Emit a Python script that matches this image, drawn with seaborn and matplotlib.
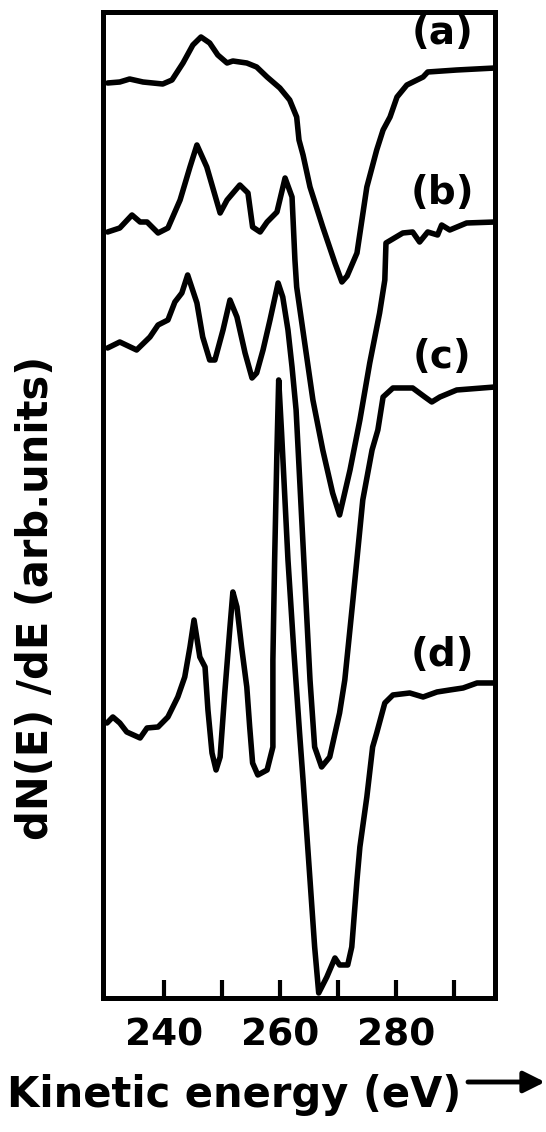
import matplotlib
matplotlib.use("Agg")
import matplotlib.pyplot as plt
import pandas as pd
import seaborn as sns

# Auger derivative spectra, four samples (a)-(d), offset vertically
energy_a = [230.3, 232.4, 234.1, 236.4, 239.8, 241.4, 243.3, 245.0, 246.4, 247.9,
            249.3, 250.9, 251.9, 254.3, 256.0, 257.8, 260.0, 261.7, 262.9, 263.3,
            264.0, 265.2, 267.4, 269.5, 270.7, 271.6, 273.3, 275.0, 276.7, 277.8,
            279.0, 280.2, 281.9, 284.7, 285.5, 290.5, 297.1]
signal_a = [91.5, 91.6, 91.9, 91.6, 91.4, 91.8, 93.5, 95.3, 96.1, 95.5,
            94.3, 93.5, 93.7, 93.5, 93.1, 92.1, 91.0, 89.8, 88.1, 85.8,
            84.3, 81.1, 77.1, 73.5, 71.6, 72.2, 74.5, 81.1, 84.8, 86.8,
            88.1, 90.1, 91.3, 92.1, 92.6, 92.8, 93.0]

energy_b = [230.3, 232.4, 234.5, 235.9, 237.1, 239.0, 240.7, 242.8, 244.5, 245.7,
            247.4, 248.4, 249.7, 250.9, 253.1, 254.5, 255.3, 256.6, 257.8, 259.5,
            260.9, 262.1, 262.6, 262.9, 265.7, 267.4, 269.1, 270.3, 272.1, 273.8,
            275.5, 277.2, 278.1, 278.3, 281.2, 282.9, 284.1, 285.5, 287.2, 287.9,
            289.3, 292.2, 297.1]
signal_b = [76.6, 77.0, 78.3, 77.6, 77.6, 76.5, 77.0, 79.8, 83.1, 85.3,
            83.1, 81.1, 78.5, 79.8, 81.3, 80.5, 77.1, 76.6, 77.6, 78.6,
            82.0, 80.1, 73.8, 71.1, 59.8, 54.8, 50.5, 48.3, 52.8, 57.8,
            63.5, 68.5, 71.8, 75.5, 76.5, 76.6, 75.6, 76.6, 76.3, 77.3,
            76.8, 77.5, 77.6]

energy_c = [230.3, 232.4, 235.3, 237.6, 239.0, 240.7, 241.9, 243.1, 244.1, 245.7,
            246.7, 247.9, 248.8, 250.2, 251.4, 252.6, 254.0, 255.2, 256.0, 257.1,
            258.3, 259.7, 260.5, 261.4, 262.1, 262.8, 265.2, 266.0, 267.2, 268.6,
            270.3, 271.2, 272.6, 274.3, 275.9, 276.9, 277.8, 279.5, 282.9, 285.0,
            286.2, 287.6, 290.5, 297.1]
signal_c = [65.0, 65.6, 64.8, 66.1, 67.3, 67.8, 69.6, 70.5, 72.3, 69.5,
            66.1, 63.8, 63.8, 66.8, 69.8, 68.1, 64.5, 62.0, 62.5, 64.8,
            67.8, 71.5, 70.1, 66.8, 63.1, 58.8, 31.8, 25.1, 23.1, 24.1,
            28.5, 31.8, 39.8, 49.8, 54.8, 56.8, 60.1, 61.0, 61.0, 60.1,
            59.6, 60.1, 60.8, 61.1]

energy_d = [230.2, 231.2, 232.4, 233.6, 235.9, 237.1, 239.0, 240.7, 242.4, 243.6,
            244.5, 245.2, 246.2, 247.1, 247.6, 248.3, 249.0, 249.7, 250.5, 251.4,
            251.9, 252.6, 253.4, 254.3, 254.8, 255.3, 256.2, 257.8, 258.8, 258.8,
            259.1, 259.5, 259.8, 260.3, 261.4, 262.4, 263.4, 264.0, 265.2, 266.0,
            266.7, 268.1, 269.5, 270.3, 271.7, 272.4, 273.3, 273.8, 275.0, 276.0,
            276.7, 278.1, 279.5, 282.4, 284.7, 287.1, 289.3, 291.6, 294.0, 297.1]
signal_d = [27.5, 28.1, 27.5, 26.6, 26.0, 27.0, 27.1, 28.1, 30.1, 32.1,
            35.1, 37.8, 34.1, 33.1, 28.8, 24.5, 22.8, 24.1, 30.5, 37.1,
            40.6, 39.1, 35.1, 31.1, 27.1, 23.5, 22.3, 22.8, 25.1, 33.8,
            43.8, 54.8, 61.8, 56.5, 43.8, 34.8, 26.5, 21.8, 11.8, 5.1,
            0.5, 2.1, 4.0, 3.3, 3.3, 5.1, 11.8, 15.1, 20.1, 25.1,
            26.5, 29.5, 30.3, 30.5, 30.1, 30.6, 30.8, 31.0, 31.5, 31.5]

curve_names = ["(a)", "(b)", "(c)", "(d)"]
tick_values = [240, 250, 260, 270, 280, 290]
tick_labels = ["240", "", "260", "", "280", ""]

frames = []
for name, e, s in zip(curve_names,
                      [energy_a, energy_b, energy_c, energy_d],
                      [signal_a, signal_b, signal_c, signal_d]):
    frames.append(pd.DataFrame({"energy": e, "signal": s, "curve": name}))
spectra = pd.concat(frames, ignore_index=True)

sns.set_style("white")
plt.rcParams["font.family"] = ["DejaVu Sans"]
plt.rcParams["text.color"] = "black"
plt.rcParams["axes.labelcolor"] = "black"
plt.rcParams["xtick.color"] = "black"
plt.rcParams["ytick.color"] = "black"

fig = plt.figure(figsize=(5.46, 11.32), dpi=100)
ax = fig.add_axes([0.1886, 0.1184, 0.718, 0.871])

for name, grp in spectra.groupby("curve", sort=False):
    sns.lineplot(data=grp, x="energy", y="signal", sort=False, estimator=None,
                 color="black", linewidth=4.0, ax=ax, legend=False,
                 solid_joinstyle="round", solid_capstyle="round")

# curve labels at the right-hand end of each trace
label_pos = {"(a)": 96.5, "(b)": 80.5, "(c)": 64.1, "(d)": 34.3}
for name in curve_names:
    ax.text(288.0, label_pos[name], name, ha="center", va="center",
            fontsize=28, fontweight="bold", color="black")

ax.set_xlim(229.5, 297.1)
ax.set_ylim(0, 98.6)
ax.set_xticks(tick_values)
ax.set_xticklabels(tick_labels, fontsize=27, fontweight="bold", color="black")
ax.set_yticks([])
ax.tick_params(axis="x", direction="in", length=13, width=3, pad=14,
               bottom=True, top=False, colors="black")
for sp in ax.spines.values():
    sp.set_linewidth(3.6)
    sp.set_color("black")

ax.set_xlabel("Kinetic energy (eV)", fontsize=30, fontweight="bold",
              va="top", ha="center", color="black")
ax.xaxis.set_label_coords(0.335, -0.077)
ax.set_ylabel("dN(E) /dE (arb.units)", fontsize=30, fontweight="bold",
              color="black")
ax.yaxis.set_label_coords(-0.117, 0.406)

# arrow pointing towards higher energy after the axis title
ax.annotate("", xy=(545 / 546, 1 - 1082 / 1132),
            xytext=(468 / 546, 1 - 1082 / 1132),
            xycoords="figure fraction", textcoords="figure fraction",
            arrowprops=dict(arrowstyle="-|>", lw=3.5, color="black",
                            mutation_scale=32, shrinkA=0, shrinkB=0))

fig.savefig("out.png", dpi=100, facecolor="white")
